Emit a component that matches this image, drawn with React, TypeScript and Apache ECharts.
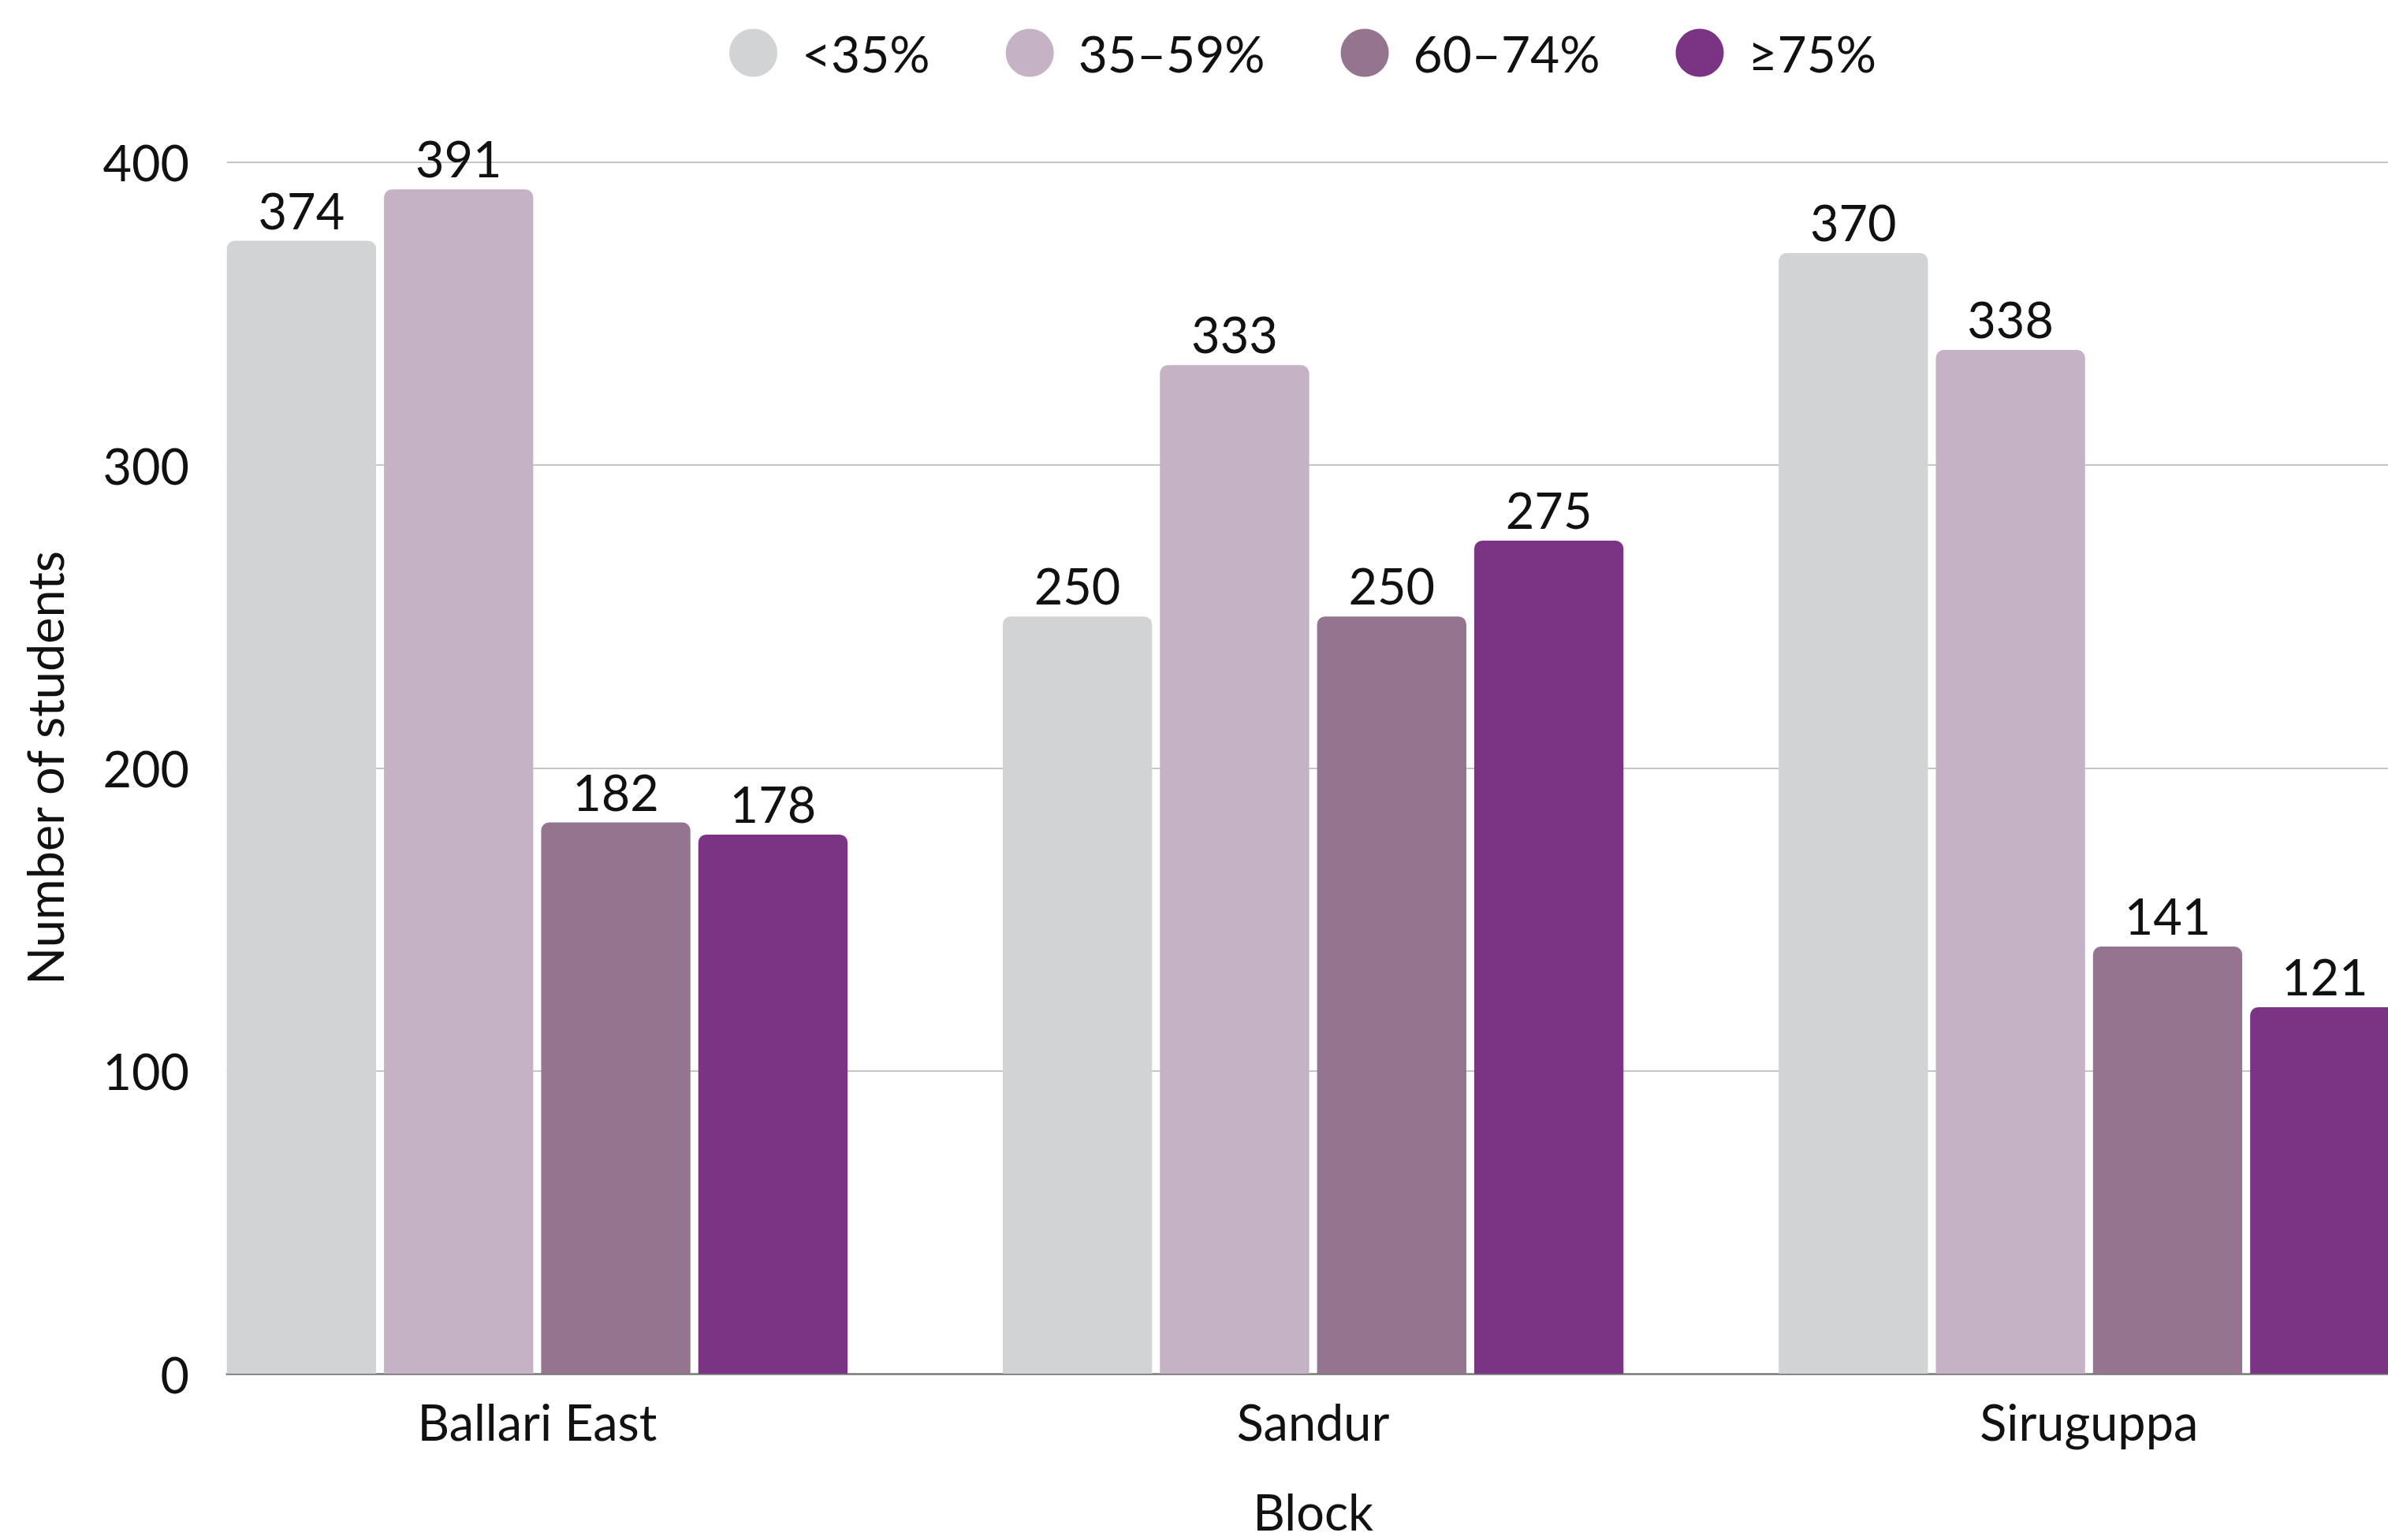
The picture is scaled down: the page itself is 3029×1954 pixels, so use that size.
import React, { useEffect, useRef } from "react";
import * as echarts from "echarts";

const categories = ["Ballari East", "Sandur", "Siruguppa"];
const seriesNames = ["<35%", "35–59%", "60–74%", "≥75%"];
const below35 = [374, 250, 370];
const from35to59 = [391, 333, 338];
const from60to74 = [182, 250, 141];
const atLeast75 = [178, 275, 121];
const seriesValues = [below35, from35to59, from60to74, atLeast75];
const colors = ["#d2d3d5", "#c5b3c5", "#957490", "#7b3384"];
const yMin = 0;
const yMax = 400;
const yInterval = 100;

const FONT = "Lato, 'Noto Sans', sans-serif";
const FS = 63;

export default function App() {
  const ref = useRef<HTMLDivElement>(null);
  useEffect(() => {
    document.body.style.margin = "0";
    if (!ref.current) return;
    const chart = echarts.init(ref.current, undefined, { renderer: "svg" });
    const top = 205.7;
    const height = 1743 - 205.7;
    const option: any = {
      animation: false,
      backgroundColor: "#ffffff",
      textStyle: { fontFamily: FONT, color: "#111111" },
      color: colors,
      legend: {
        data: seriesNames,
        icon: "circle",
        itemWidth: 61,
        itemHeight: 61,
        itemGap: 96,
        left: 925,
        top: 35,
        padding: 0,
        textStyle: {
          fontFamily: FONT,
          fontSize: 64,
          color: "#111111",
          padding: [0, 0, 0, 26],
        },
      },
      grid: [
        {
          left: 189.3,
          width: 2952.6,
          top,
          height,
          containLabel: false,
          outerBoundsMode: "none",
        },
        {
          left: 287.7,
          width: 2854.2,
          top,
          height,
          containLabel: false,
          outerBoundsMode: "none",
        },
      ],
      xAxis: [
        {
          gridIndex: 0,
          type: "category",
          data: categories,
          axisLine: { show: false },
          axisTick: { show: false },
          axisLabel: {
            fontFamily: FONT,
            fontSize: FS,
            color: "#111111",
            margin: 29,
          },
          name: "Block",
          nameLocation: "middle",
          nameGap: 143,
          nameTextStyle: { fontFamily: FONT, fontSize: FS, color: "#111111" },
        },
        {
          gridIndex: 1,
          type: "value",
          min: 0,
          max: 1,
          axisLine: { show: true, lineStyle: { color: "#777777", width: 2.5 } },
          axisTick: { show: false },
          axisLabel: { show: false },
          splitLine: { show: false },
        },
      ],
      yAxis: [
        {
          gridIndex: 0,
          type: "value",
          min: yMin,
          max: yMax,
          interval: yInterval,
          show: false,
          splitLine: { show: false },
        },
        {
          gridIndex: 1,
          type: "value",
          min: yMin,
          max: yMax,
          interval: yInterval,
          axisLine: { show: false },
          axisTick: { show: false },
          axisLabel: {
            fontFamily: FONT,
            fontSize: FS,
            color: "#111111",
            margin: 47.7,
          },
          splitLine: {
            show: true,
            showMinLine: false,
            lineStyle: { color: "#c6c6c6", width: 2 },
          },
          name: "Number of students",
          nameLocation: "middle",
          nameGap: 200,
          nameRotate: 90,
          nameTextStyle: { fontFamily: FONT, fontSize: FS, color: "#111111" },
        },
      ],
      series: seriesNames.map((name, i) => ({
        name,
        type: "bar",
        xAxisIndex: 0,
        yAxisIndex: 0,
        data: seriesValues[i],
        barGap: "5.3%",
        barCategoryGap: "20%",
        itemStyle: { color: colors[i], borderRadius: [10, 10, 0, 0] },
        label: {
          show: true,
          position: "top",
          distance: 8,
          fontFamily: FONT,
          fontSize: FS,
          color: "#111111",
        },
      })),
    };
    chart.setOption(option);
    return () => chart.dispose();
  }, []);
  return (
    <div
      ref={ref}
      style={{ position: "fixed", left: 0, top: 0, width: 3029, height: 1954 }}
    />
  );
}
